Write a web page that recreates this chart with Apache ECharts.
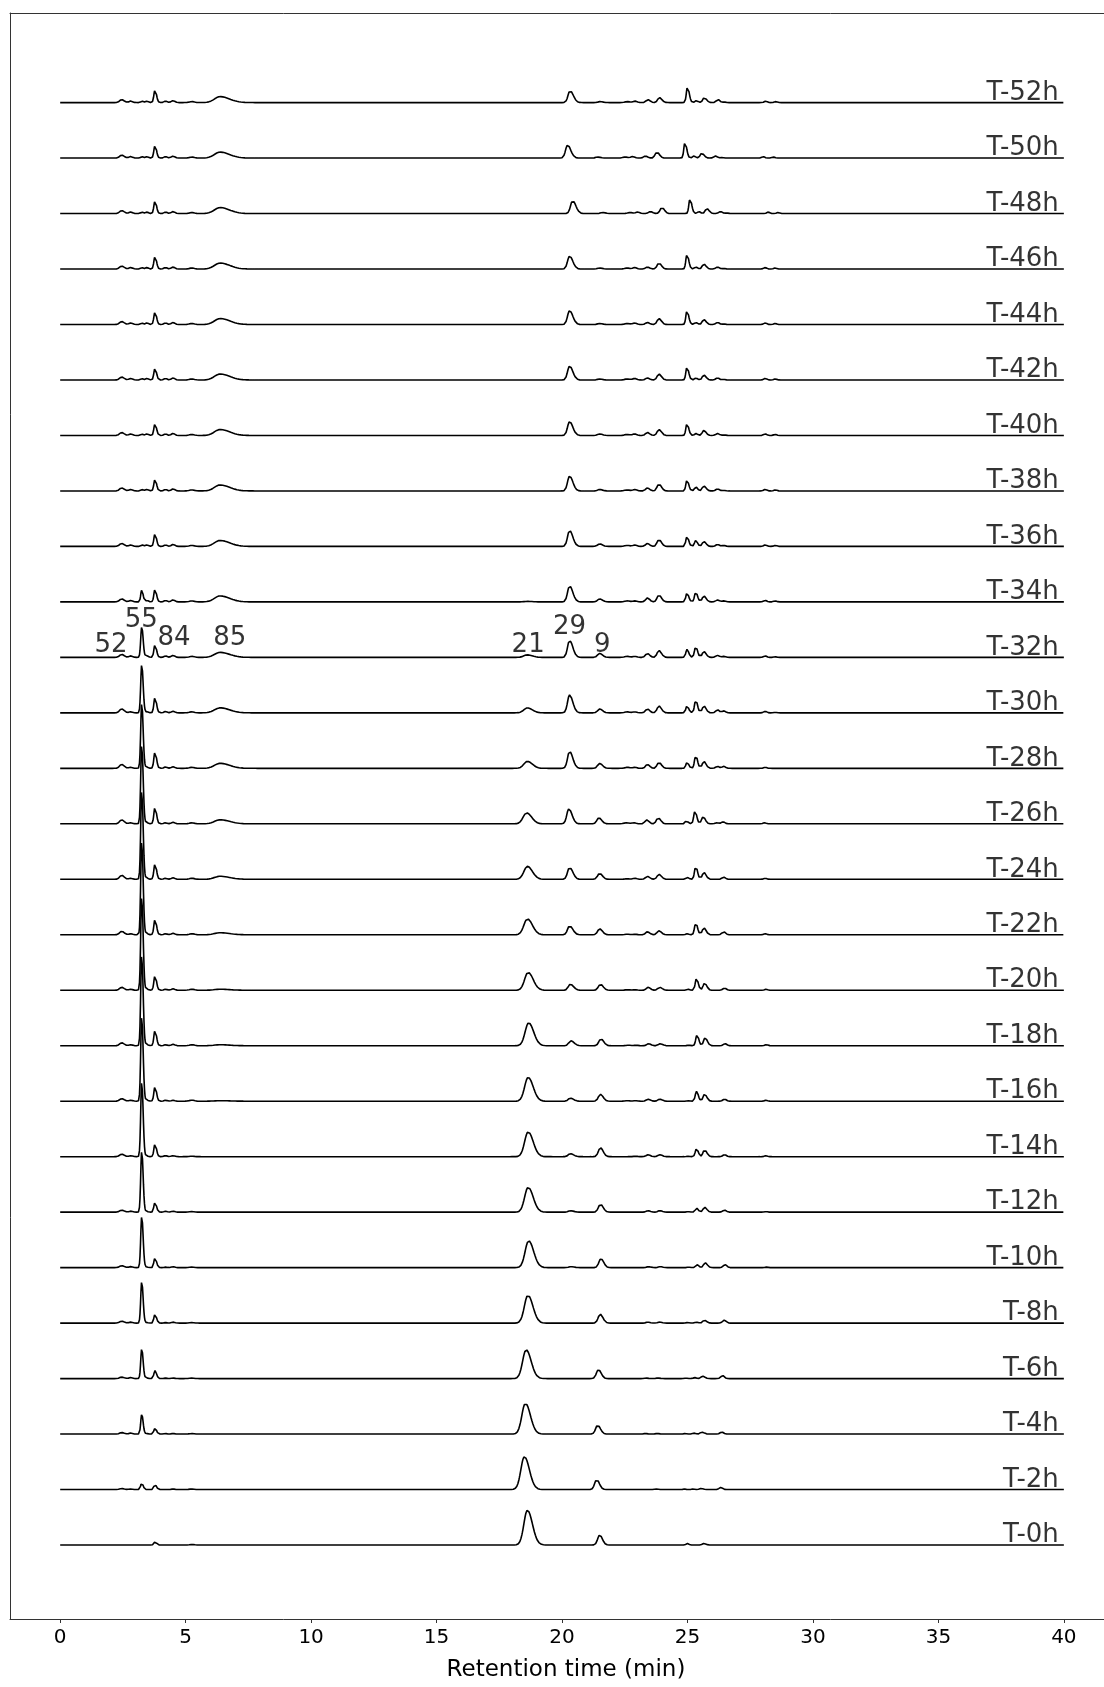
<!DOCTYPE html>
<html>
<head>
<meta charset="utf-8">
<script src="https://cdn.jsdelivr.net/npm/echarts@6/dist/echarts.min.js"></script>
<style>
html,body{margin:0;padding:0;background:#fff;}
#chart{width:1104px;height:1687px;}
</style>
</head>
<body>
<div id="chart"></div>
<script>
// ---- trace names (bottom to top) ----
const traceNames = ['T-0h','T-2h','T-4h','T-6h','T-8h','T-10h','T-12h','T-14h','T-16h','T-18h','T-20h','T-22h','T-24h','T-26h','T-28h','T-30h','T-32h','T-34h','T-36h','T-38h','T-40h','T-42h','T-44h','T-46h','T-48h','T-50h','T-52h'];

// ---- x axis ticks ----
const xTicks = [0, 5, 10, 15, 20, 25, 30, 35, 40];

// ---- peak table: retention time (min) and left/right widths (min) ----
const peakTimes  = [2.45, 2.8, 3.25, 3.46, 3.78, 4.2, 4.5, 5.25, 6.37, 18.62, 20.3, 21.5, 22.6, 22.9, 23.4, 23.86, 24.98, 25.33, 25.65, 26.2, 26.45, 28.1, 28.5];
const peakSigmaL = [0.08, 0.06, 0.04, 0.06, 0.045, 0.06, 0.07, 0.1, 0.22, 0.14, 0.08, 0.08, 0.1, 0.08, 0.07, 0.07, 0.045, 0.05, 0.06, 0.07, 0.07, 0.06, 0.06];
const peakSigmaR = [0.1, 0.08, 0.055, 0.06, 0.06, 0.06, 0.07, 0.1, 0.38, 0.2, 0.13, 0.11, 0.1, 0.08, 0.09, 0.1, 0.07, 0.07, 0.09, 0.07, 0.07, 0.06, 0.06];

// ---- peak heights per trace (index 0 = T-0h ... 26 = T-52h) ----
const h52   = [0, 1, 1.5, 1.5, 2, 2, 2, 2.5, 2.5, 3, 3, 3.5, 4, 4, 4, 4, 3, 3, 3, 3, 3, 3, 3, 3, 3, 3, 3];
const h28   = [0, 0.5, 1, 1, 1, 1, 1, 1, 1, 1, 1, 1, 1, 1, 1, 1, 1.5, 1.5, 1.5, 1.5, 1.5, 1.5, 1.5, 1.5, 1.5, 1.5, 1.5];
const h55   = [0, 7, 20, 30, 42, 52, 62, 76, 86, 92, 95, 95, 90, 80, 66, 49, 31, 12, 1.5, 1.5, 1.5, 1.5, 1.5, 1.5, 1.5, 1.5, 1.5];
const h346  = [0, 0, 0.5, 0.5, 0.5, 0.5, 0.5, 0.5, 1, 1, 1, 1, 1, 1, 1, 1, 1.5, 1.5, 1.5, 1.5, 1.5, 1.5, 1.5, 1.5, 1.5, 1.5, 1.5];
const h84   = [3, 5, 6, 8, 9, 10, 10, 13, 15, 16, 15, 16, 16, 17, 17, 16, 13, 13, 13, 12, 12, 12, 13, 13, 13, 13, 13];
const h42   = [0, 0, 0.5, 0.5, 0.5, 0.5, 1, 1, 1, 1, 1, 1, 1, 1, 1.5, 1.5, 1.5, 1.5, 1.5, 1.5, 1.5, 1.5, 1.5, 1.5, 1.5, 1.5, 1.5];
const h45   = [0, 0.5, 0.5, 0.5, 1, 1, 1, 1, 1, 1.5, 1.5, 1.5, 1.5, 1.5, 1.5, 1.5, 2, 2, 2, 2, 2, 2, 2, 2, 2, 2, 2];
const h525  = [0.5, 0.5, 0.5, 0.5, 0.5, 0.5, 0.5, 0.5, 1, 1, 1, 1, 1, 1, 1, 1, 1, 1, 1, 1, 1, 1, 1, 1, 1, 1, 1];
const h85   = [0, 0, 0, 0, 0, 0, 0, 0, 0.5, 1, 1, 2, 3, 4, 5, 5, 5, 6, 6, 6, 6, 6, 6, 6, 6, 6, 6];
const h21   = [35, 33, 31, 29, 28, 27, 25, 25, 24, 23, 18, 16, 13, 11, 7, 5, 2.5, 0.5, 0, 0, 0, 0, 0, 0, 0, 0, 0];
const h29   = [0, 0, 0, 0, 0, 1, 1.5, 3, 3, 5, 6, 9, 12, 15, 17, 18, 17, 16, 16, 15, 14, 14, 14, 13, 13, 13, 12];
const h9    = [10, 10, 9, 9, 9, 9, 8, 9, 7, 7, 6, 6, 6, 6, 5, 4, 4, 3, 2.5, 1.5, 1.5, 1, 1, 1, 1, 1, 1];
const h226  = [0, 0, 0, 0, 0, 0, 0, 0, 0.5, 0.5, 0.5, 0.5, 0.5, 1, 1, 1, 1, 1, 1, 1, 1, 1, 1, 1, 1, 1, 1];
const h229  = [0, 0, 0, 0, 0, 0, 0, 0.5, 0.5, 0.5, 0.5, 0.5, 1, 1, 1, 1, 1, 1, 1.5, 1.5, 1.5, 1.5, 1.5, 1.5, 1.5, 1.5, 1.5];
const h234  = [0, 0, 0.5, 0.5, 1, 1, 1.5, 2, 2, 2, 3, 3, 3, 4, 4, 4, 4, 4, 3, 3, 3, 2, 2, 2, 2, 2, 3];
const h2386 = [0, 0.5, 0.5, 0.5, 1, 1, 1.5, 2, 2, 2, 3, 4, 5, 6, 6, 7, 7, 7, 7, 7, 6, 6, 6, 6, 6, 6, 5];
const h2498 = [1.5, 0.5, 0.5, 0.5, 0.5, 0.5, 0.5, 0.5, 0.5, 0.5, 1, 1, 2, 3, 6, 7, 8, 9, 10, 11, 12, 13, 14, 15, 15, 16, 16];
const h2533 = [0, 0.5, 1, 1, 1, 3, 4, 8, 10, 11, 12, 12, 13, 13, 13, 13, 11, 10, 6, 4, 2, 2, 2, 2, 2, 2, 2];
const h2565 = [1.5, 1, 2, 2.5, 3, 5, 5, 7, 7, 8, 7, 7, 7, 7, 7, 7, 6, 6, 5, 5, 5, 5, 5, 5, 5, 5, 5];
const h262  = [0, 0, 0, 0, 0, 0, 0, 0, 0, 0, 0, 0, 0, 1, 2, 3, 2, 2, 2, 2, 2, 2, 2, 2, 2, 2, 3];
const h2645 = [0, 2, 2, 3, 3, 3, 2, 2, 2, 2, 2, 3, 2, 2, 2, 2, 1, 1, 1, 0.5, 0.5, 0.5, 0.5, 0.5, 0.5, 0.5, 0.5];
const h281  = [0, 0, 0, 0, 0, 0.5, 0.5, 1, 1, 1, 1, 1, 1, 1, 1, 1.5, 1.5, 1.5, 1.5, 1.5, 1.5, 1.5, 1.5, 1.5, 1.5, 1.5, 1.5];
const h285  = [0, 0, 0, 0, 0, 0, 0, 0, 0, 0, 0, 0, 0, 0, 0, 0.5, 0.5, 1, 1, 1, 1, 1, 1, 1, 1, 1, 1];

// retention-time drift of the late-eluting peaks per trace (min)
const rtShift = [0, -0.12, -0.08, -0.05, 0.02, 0.05, 0.03, 0.03, 0.03, 0.05, 0.03, 0, 0, -0.03, 0, 0, 0, 0, 0, 0, 0, 0, 0, 0, 0.12, -0.08, 0.02];

// ---- peak annotations ----
const annoText = ['52', '55', '84', '85', '21', '29', '9'];
const annoX    = [2.03, 3.23, 4.54, 6.76, 18.65, 20.3, 21.6];
const annoY    = [904, 929, 910.5, 910.5, 904, 922, 904];

const OFFSET = 55.72;   // vertical stacking step between traces
const heights = [h52, h28, h55, h346, h84, h42, h45, h525, h85, h21, h29, h9, h226, h229, h234, h2386, h2498, h2533, h2565, h262, h2645, h281, h285];

// ---- build series ----
const series = [];
const xs = [];
for (let k = 0; k <= 2000; k++) xs.push(+(k * 0.02).toFixed(2));

traceNames.forEach((name, i) => {
  const base = i * OFFSET;
  const data = xs.map(x => {
    let y = 0;
    for (let p = 0; p < peakTimes.length; p++) {
      const h = heights[p][i];
      if (!h) continue;
      const t0 = peakTimes[p] + (peakTimes[p] > 10 ? rtShift[i] : 0);
      const s = x < t0 ? peakSigmaL[p] : peakSigmaR[p];
      const d = (x - t0) / s;
      if (Math.abs(d) < 8) y += h * Math.exp(-0.5 * d * d);
    }
    return [x, base + y];
  });
  series.push({
    type: 'line', name: name, data: data, showSymbol: false, symbol: 'none',
    smooth: false, animation: false, clip: false,
    lineStyle: { color: '#000', width: 1.6 }, silent: true, z: 2
  });
});

// trace labels
series.push({
  type: 'scatter', symbolSize: 0, animation: false, silent: true, z: 5,
  data: traceNames.map((n, i) => ({ name: n, value: [39.8, i * OFFSET - 3.5] })),
  label: {
    show: true, formatter: '{b}', position: [0, 0], align: 'right', verticalAlign: 'bottom',
    fontFamily: 'DejaVu Sans', fontSize: 26, color: '#000'
  }
});

// peak number annotations
series.push({
  type: 'scatter', symbolSize: 0, animation: false, silent: true, z: 5,
  data: annoText.map((t, i) => ({ name: t, value: [annoX[i], annoY[i]] })),
  label: {
    show: true, formatter: '{b}', position: [0, 0], align: 'center', verticalAlign: 'middle',
    fontFamily: 'DejaVu Sans', fontSize: 26, color: '#000'
  }
});

const frameLine = { show: true, onZero: false, lineStyle: { color: '#333', width: 1 } };

const chart = echarts.init(document.getElementById('chart'), null, { renderer: 'canvas' });
chart.setOption({
  backgroundColor: '#fff',
  animation: false,
  grid: { left: 10, right: 0, top: 13, bottom: 61, show: false },
  xAxis: [{
    type: 'value', min: -2, max: 41.6, position: 'bottom',
    name: 'Retention time (min)', nameLocation: 'middle', nameGap: 40,
    nameTextStyle: { fontFamily: 'DejaVu Sans', fontSize: 23, color: '#000', padding: [0, 0, 0, 18] },
    axisLine: frameLine,
    axisTick: { show: true, length: 4, inside: false, customValues: xTicks, lineStyle: { color: '#333' } },
    axisLabel: { show: true, customValues: xTicks, margin: 9, fontFamily: 'DejaVu Sans', fontSize: 20, color: '#000' },
    splitLine: { show: false }
  }, {
    type: 'value', min: -2, max: 41.6, position: 'top',
    axisLine: frameLine, axisTick: { show: false }, axisLabel: { show: false }, splitLine: { show: false }
  }],
  yAxis: {
    type: 'value', min: -74.3, max: 1538.7, position: 'left',
    axisLine: frameLine, axisTick: { show: false }, axisLabel: { show: false }, splitLine: { show: false }
  },
  series: series
});
</script>
</body>
</html>
